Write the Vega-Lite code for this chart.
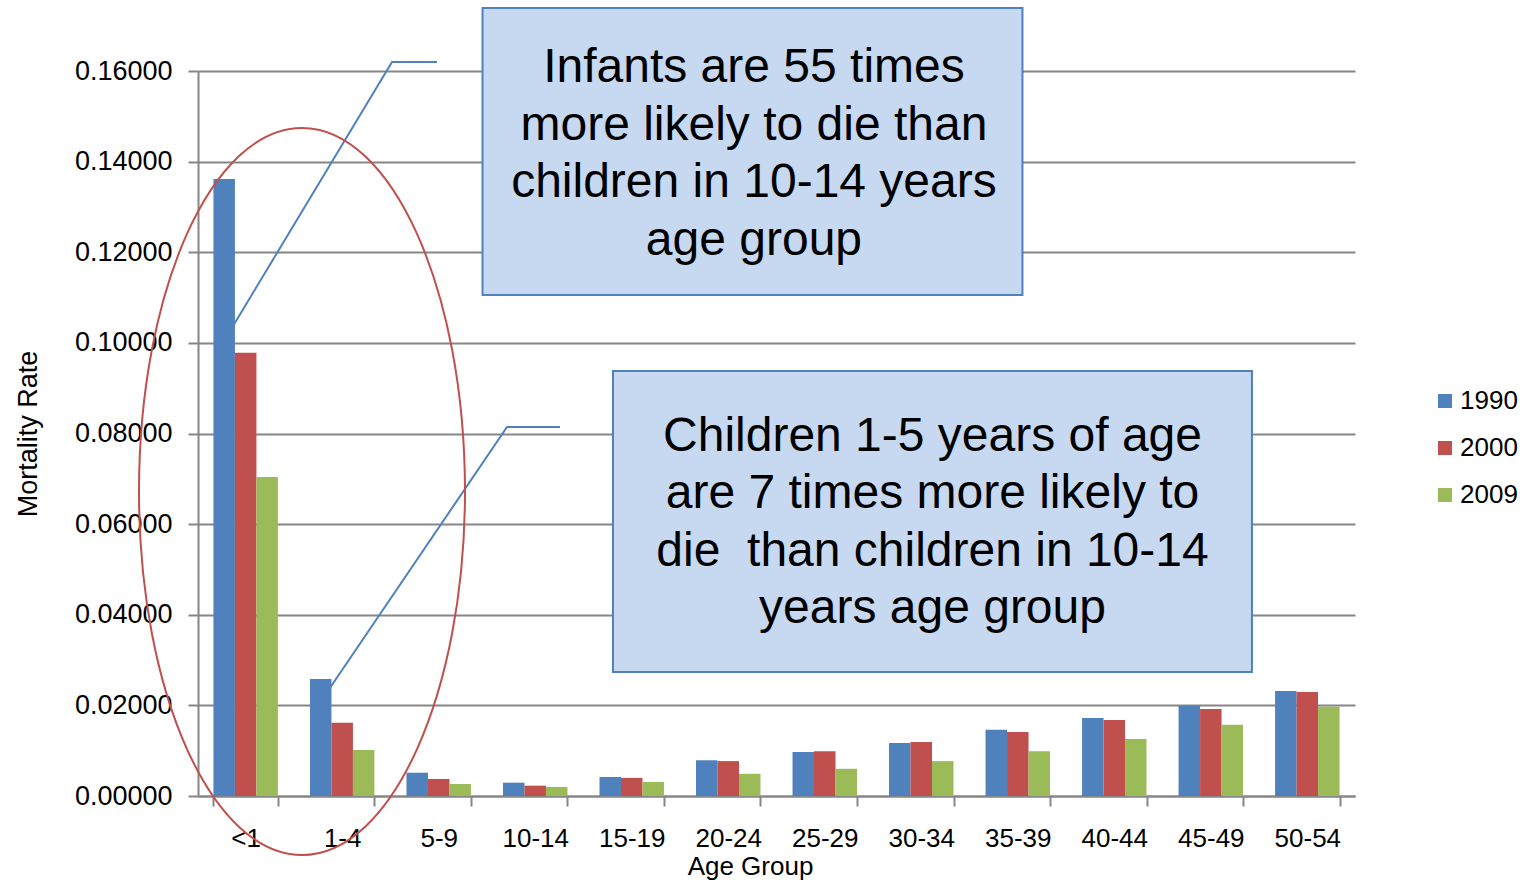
{
  "$schema": "https://vega.github.io/schema/vega-lite/v6.json",
  "width": 1157,
  "height": 725,
  "autosize": {"type": "none"},
  "padding": {"left": 198, "top": 71, "right": 169, "bottom": 84},
  "background": "white",
  "config": {
    "view": {"stroke": null},
    "font": "Liberation Sans",
    "axis": {"labelFont": "Liberation Sans", "titleFont": "Liberation Sans", "titleFontWeight": "normal", "labelColor": "black", "titleColor": "black"},
    "legend": {"labelFont": "Liberation Sans"}
  },
  "datasets": {
    "rates": [
      {"age": "<1", "year": "1990", "rate": 0.13617},
      {"age": "<1", "year": "2000", "rate": 0.09783},
      {"age": "<1", "year": "2009", "rate": 0.0704},
      {"age": "1-4", "year": "1990", "rate": 0.02582},
      {"age": "1-4", "year": "2000", "rate": 0.01618},
      {"age": "1-4", "year": "2009", "rate": 0.01015},
      {"age": "5-9", "year": "1990", "rate": 0.00514},
      {"age": "5-9", "year": "2000", "rate": 0.00375},
      {"age": "5-9", "year": "2009", "rate": 0.00265},
      {"age": "10-14", "year": "1990", "rate": 0.00294},
      {"age": "10-14", "year": "2000", "rate": 0.00228},
      {"age": "10-14", "year": "2009", "rate": 0.002},
      {"age": "15-19", "year": "1990", "rate": 0.0042},
      {"age": "15-19", "year": "2000", "rate": 0.004},
      {"age": "15-19", "year": "2009", "rate": 0.0031},
      {"age": "20-24", "year": "1990", "rate": 0.0079},
      {"age": "20-24", "year": "2000", "rate": 0.0077},
      {"age": "20-24", "year": "2009", "rate": 0.0049},
      {"age": "25-29", "year": "1990", "rate": 0.0097},
      {"age": "25-29", "year": "2000", "rate": 0.0099},
      {"age": "25-29", "year": "2009", "rate": 0.006},
      {"age": "30-34", "year": "1990", "rate": 0.0117},
      {"age": "30-34", "year": "2000", "rate": 0.0119},
      {"age": "30-34", "year": "2009", "rate": 0.0077},
      {"age": "35-39", "year": "1990", "rate": 0.0146},
      {"age": "35-39", "year": "2000", "rate": 0.0141},
      {"age": "35-39", "year": "2009", "rate": 0.0099},
      {"age": "40-44", "year": "1990", "rate": 0.0172},
      {"age": "40-44", "year": "2000", "rate": 0.0168},
      {"age": "40-44", "year": "2009", "rate": 0.0126},
      {"age": "45-49", "year": "1990", "rate": 0.0199},
      {"age": "45-49", "year": "2000", "rate": 0.0192},
      {"age": "45-49", "year": "2009", "rate": 0.0157},
      {"age": "50-54", "year": "1990", "rate": 0.02317},
      {"age": "50-54", "year": "2000", "rate": 0.02295},
      {"age": "50-54", "year": "2009", "rate": 0.0197}
    ],
    "boxes": [
      {"box": "infants", "x1": 2.951, "x2": 8.551, "y1": 0.1739, "y2": 0.11057, "tx": 5.766, "ty": 0.16066, "label": "Infants are 55 times\nmore likely to die than\nchildren in 10-14 years\nage group"},
      {"box": "children", "x1": 4.304, "x2": 10.931, "y1": 0.09379, "y2": 0.02737, "tx": 7.618, "ty": 0.07923, "label": "Children 1-5 years of age\nare 7 times more likely to\ndie\u00a0 than children in 10-14\nyears age group"}
    ],
    "connectors": [
      {"line": "a", "order": 1, "x": 0.332, "y": 0.10262},
      {"line": "a", "order": 2, "x": 2.012, "y": 0.16199},
      {"line": "a", "order": 3, "x": 2.479, "y": 0.16199},
      {"line": "b", "order": 1, "x": 1.213, "y": 0.01898},
      {"line": "b", "order": 2, "x": 3.205, "y": 0.08143},
      {"line": "b", "order": 3, "x": 3.754, "y": 0.08143}
    ],
    "ellipse": [
      {"x": 1.0786, "y": 0.0672}
    ]
  },
  "layer": [
    {
      "data": {"name": "rates"},
      "mark": {"type": "bar"},
      "encoding": {
        "x": {
          "field": "age", "type": "nominal", "sort": null,
          "scale": {"paddingInner": 0.332, "paddingOuter": 0.16},
          "axis": {
            "title": "Age Group", "titleFontSize": 26, "titlePadding": 2, "titleX": 552,
            "labelFontSize": 26, "labelAngle": 0, "labelPadding": 19,
            "tickBand": "extent", "tickSize": 10, "tickWidth": 2, "tickColor": "#868686",
            "domainColor": "#868686", "domainWidth": 2, "grid": false
          }
        },
        "xOffset": {"field": "year", "type": "nominal", "scale": {"paddingInner": 0, "paddingOuter": 0}},
        "y": {
          "field": "rate", "type": "quantitative",
          "scale": {"domain": [0, 0.16], "nice": false, "zero": true},
          "axis": {
            "title": "Mortality Rate", "titleFontSize": 27, "titlePadding": 32,
            "values": [0, 0.02, 0.04, 0.06, 0.08, 0.1, 0.12, 0.14, 0.16],
            "format": ".5f", "labelFontSize": 27, "labelPadding": 16,
            "tickSize": 10, "tickWidth": 2, "tickColor": "#868686",
            "domainColor": "#868686", "domainWidth": 2,
            "grid": true, "gridColor": "#868686", "gridWidth": 2
          }
        },
        "color": {
          "field": "year", "type": "nominal",
          "scale": {"domain": ["1990", "2000", "2009"], "range": ["#4F81BD", "#C0504D", "#9BBB59"]},
          "legend": {
            "title": null, "orient": "none", "legendX": 1234, "legendY": 317,
            "symbolType": "square", "symbolSize": 196, "symbolStrokeWidth": 0,
            "labelFontSize": 26, "labelColor": "black", "rowPadding": 21, "padding": 0, "labelOffset": 2
          }
        }
      }
    },
    {
      "layer": [
        {
          "data": {"name": "connectors"},
          "mark": {"type": "line", "color": "#4F81BD", "strokeWidth": 2},
          "encoding": {
            "x": {"field": "x", "type": "quantitative", "scale": {"domain": [0, 12], "nice": false, "zero": true}, "axis": null},
            "y": {"field": "y", "type": "quantitative", "scale": {"domain": [0, 0.16], "nice": false}},
            "detail": {"field": "line"},
            "order": {"field": "order", "type": "quantitative"}
          }
        },
        {
          "data": {"name": "boxes"},
          "mark": {"type": "rect", "fill": "#C6D9F1", "stroke": "#4F81BD", "strokeWidth": 2},
          "encoding": {
            "x": {"field": "x1", "type": "quantitative", "scale": {"domain": [0, 12], "nice": false, "zero": true}, "axis": null},
            "x2": {"field": "x2"},
            "y": {"field": "y1", "type": "quantitative", "scale": {"domain": [0, 0.16], "nice": false}},
            "y2": {"field": "y2"}
          }
        },
        {
          "data": {"name": "boxes"},
          "mark": {"type": "text", "font": "Liberation Sans", "fontSize": 48, "lineHeight": 57.5, "lineBreak": "\n", "align": "center", "baseline": "middle", "color": "black"},
          "encoding": {
            "x": {"field": "tx", "type": "quantitative", "scale": {"domain": [0, 12], "nice": false, "zero": true}, "axis": null},
            "y": {"field": "ty", "type": "quantitative", "scale": {"domain": [0, 0.16], "nice": false}},
            "text": {"field": "label"}
          }
        },
        {
          "data": {"name": "ellipse"},
          "mark": {
            "type": "point", "filled": false, "stroke": "#C0504D", "strokeWidth": 2, "opacity": 1,
            "shape": "M 0.4484 0 C 0.4484 0.5523 0.2477 1 0 1 C -0.2477 1 -0.4484 0.5523 -0.4484 0 C -0.4484 -0.5523 -0.2477 -1 0 -1 C 0.2477 -1 0.4484 -0.5523 0.4484 0 Z",
            "size": 528529
          },
          "encoding": {
            "x": {"field": "x", "type": "quantitative", "scale": {"domain": [0, 12], "nice": false, "zero": true}, "axis": null},
            "y": {"field": "y", "type": "quantitative", "scale": {"domain": [0, 0.16], "nice": false}}
          }
        }
      ]
    }
  ],
  "resolve": {"scale": {"x": "independent"}}
}
